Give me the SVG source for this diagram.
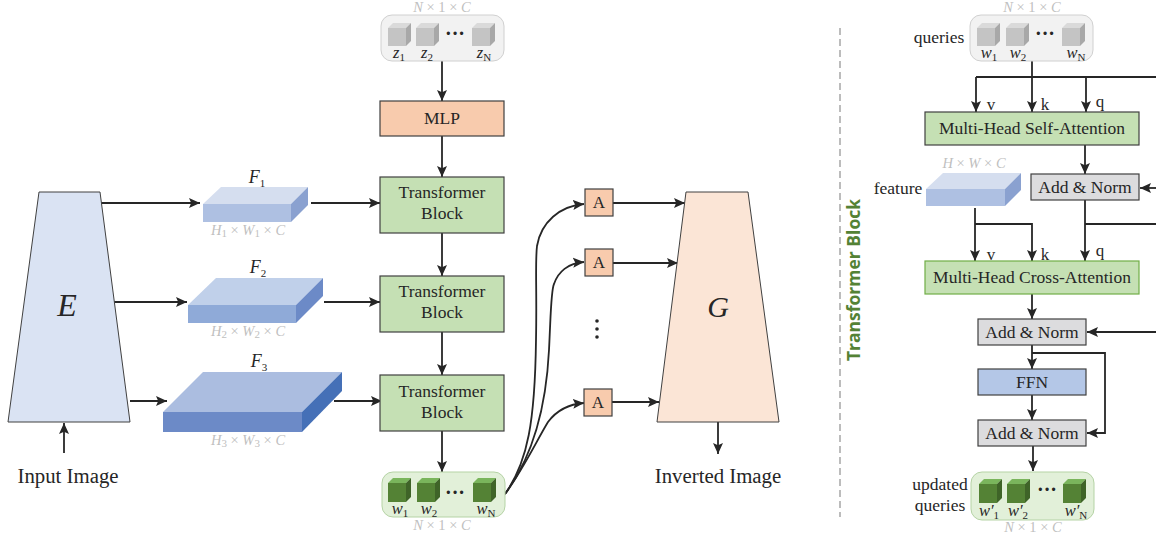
<svg xmlns="http://www.w3.org/2000/svg" xmlns:xlink="http://www.w3.org/1999/xlink" width="1156" height="535" viewBox="0 0 1156 535">
<style>
text{font-family:"Liberation Serif","Times New Roman",serif;fill:#262626}
.t{font-size:17.5px;text-anchor:middle}
.l{font-size:20.8px;text-anchor:middle}
.lb{font-size:17px;text-anchor:middle}
.n{font-size:17.5px;text-anchor:middle}
.m{font-style:italic;font-size:16.5px;text-anchor:middle}
.s{font-size:11px;font-style:normal}
.d{font-style:italic;font-size:14.5px;text-anchor:middle;fill:#bfbfbf}
.x{font-style:normal}
.dots{font-size:20px;font-weight:bold;text-anchor:middle}
.c{fill:none;stroke:#262626;stroke-width:1.8}
.a{marker-end:url(#ah)}
.box{stroke:#404040;stroke-width:1.2}
.gr{fill:#c5e0b4}.or{fill:#f8cbad}.gy{fill:#dcdcde}.bl{fill:#b4c7e7}
.pg{fill:#f2f2f2;stroke:#d0d0d0;stroke-width:1}
.pw{fill:#e2f0d9;stroke:#b5d3a5;stroke-width:1}
</style>
<defs>
<marker id="ah" markerUnits="userSpaceOnUse" markerWidth="12" markerHeight="11" refX="11" refY="5.5" orient="auto"><path d="M0,0.5 L11,5.5 L0,10.5 L2.2,5.5z" fill="#262626"/></marker>
<g id="gc"><rect x="0" y="5" width="18" height="18" fill="#c4c4c4"/><path d="M0,5 L5,0 H23 L18,5z" fill="#dadada"/><path d="M18,5 L23,0 V18 L18,23z" fill="#a8a8a8"/></g>
<g id="wc"><rect x="0" y="5" width="18" height="19" fill="#548235"/><path d="M0,5 L5,0 H23 L18,5z" fill="#7ab55c"/><path d="M18,5 L23,0 V19 L18,24z" fill="#3f6428"/></g>
</defs>

<g id="connectors">
<path class="c a" d="M442,61V101"/>
<path class="c a" d="M442,136V177"/>
<path class="c a" d="M442,233V276"/>
<path class="c a" d="M442,332V375"/>
<path class="c a" d="M442,431V472"/>
<path class="c a" d="M100,203H200"/>
<path class="c a" d="M311,203H380"/>
<path class="c a" d="M100,302H187"/>
<path class="c a" d="M324,302H380"/>
<path class="c a" d="M130,401H167"/>
<path class="c a" d="M334,401H382"/>
<path class="c a" d="M64,453V423"/>
<path class="c a" d="M718,422V454"/>
<path class="c a" d="M505,494C528,462 535,420 536,340C537,290 535,262 537,246C541,222 560,206 584,204"/>
<path class="c a" d="M505,494C532,458 546,410 549,350C551,310 551,290 554,284C558,272 568,263 584,262"/>
<path class="c a" d="M505,494C524,468 537,440 548,422C557,410 570,404 584,403"/>
<path class="c a" d="M613,203H685"/>
<path class="c a" d="M613,263H678"/>
<path class="c a" d="M612,402H659"/>
<path class="c a" d="M1032,61V112"/>
<path class="c" d="M976,77H1156"/>
<path class="c a" d="M976,77V112"/>
<path class="c a" d="M1086,77V112"/>
<path class="c a" d="M1085,145V174"/>
<path class="c a" d="M1156,188H1140"/>
<path class="c a" d="M1085,200V261"/>
<path class="c" d="M1085,224H1156"/>
<path class="c a" d="M975,208V261"/>
<path class="c a" d="M975,224H1032V261"/>
<path class="c a" d="M1032,294V319"/>
<path class="c a" d="M1156,332H1087"/>
<path class="c a" d="M1032,345V369"/>
<path class="c a" d="M1032,353H1105V433H1087"/>
<path class="c a" d="M1032,395V420"/>
<path class="c a" d="M1033,446V471"/>
<path d="M840,28V517" fill="none" stroke="#a6a6a6" stroke-width="1.5" stroke-dasharray="7 4"/>
</g>

<g id="encoder"><path d="M39,192H100L130,422H8z" fill="#dae3f3" stroke="#404040" stroke-width="1"/><text x="67" y="316" font-size="32" text-anchor="middle" font-style="italic">E</text></g>
<g id="input-label"><text class="l" x="68" y="483">Input Image</text></g>
<g id="generator"><path d="M686,192H748L779,422H657z" fill="#fbe5d6" stroke="#404040" stroke-width="1"/><text x="718" y="317" font-size="30" text-anchor="middle" font-style="italic">G</text></g>
<g id="output-label"><text class="l" x="718" y="483">Inverted Image</text></g>

<g id="z-panel">
<text class="d" x="442" y="12">N <tspan class="x">× 1 ×</tspan> C</text>
<rect class="pg" x="381" y="15" width="123" height="46" rx="11"/>
<use href="#gc" x="388" y="23"/><use href="#gc" x="416" y="23"/><use href="#gc" x="472" y="23"/>
<text class="dots" x="455" y="40">···</text>
<text class="m" x="399" y="58">z<tspan class="s" dy="3">1</tspan></text>
<text class="m" x="427" y="58">z<tspan class="s" dy="3">2</tspan></text>
<text class="m" x="484" y="58">z<tspan class="s" dy="3" font-style="italic">N</tspan></text>
</g>
<g id="mlp"><rect class="box or" x="380" y="101" width="124" height="35"/><text class="t" x="442" y="124">MLP</text></g>
<g id="tb1"><rect class="box gr" x="380" y="177" width="124" height="56"/><text class="t" x="442" y="198">Transformer</text><text class="t" x="442" y="219">Block</text></g>
<g id="tb2"><rect class="box gr" x="380" y="276" width="124" height="56"/><text class="t" x="442" y="297">Transformer</text><text class="t" x="442" y="318">Block</text></g>
<g id="tb3"><rect class="box gr" x="380" y="375" width="124" height="56"/><text class="t" x="442" y="397">Transformer</text><text class="t" x="442" y="418">Block</text></g>
<g id="w-panel">
<rect class="pw" x="382" y="472" width="123" height="45" rx="11"/>
<use href="#wc" x="388" y="478"/><use href="#wc" x="417" y="478"/><use href="#wc" x="473" y="478"/>
<text class="dots" x="455" y="499">···</text>
<text class="m" x="400" y="514">w<tspan class="s" dy="3">1</tspan></text>
<text class="m" x="429" y="514">w<tspan class="s" dy="3">2</tspan></text>
<text class="m" x="486" y="514">w<tspan class="s" dy="3" font-style="italic">N</tspan></text>
<text class="d" x="442" y="530">N <tspan class="x">× 1 ×</tspan> C</text>
</g>

<g id="f1">
<text x="257" y="183" font-size="18" text-anchor="middle" font-style="italic">F<tspan class="s" dy="4" font-size="12">1</tspan></text>
<path d="M203,204L221,187H308L291,204z" fill="#d5deef"/><rect x="203" y="204" width="88" height="18" fill="#aec0e2"/><path d="M291,204L308,187V205L291,222z" fill="#8aa1d0"/>
<text class="d" x="248" y="235">H<tspan class="s" dy="2">1</tspan><tspan class="x" dy="-2"> × </tspan>W<tspan class="s" dy="2">1</tspan><tspan class="x" dy="-2"> × </tspan>C</text>
</g>
<g id="f2">
<text x="258" y="273" font-size="18" text-anchor="middle" font-style="italic">F<tspan class="s" dy="4" font-size="12">2</tspan></text>
<path d="M188,305L216,278H323L296,305z" fill="#c0d0ea"/><rect x="188" y="305" width="108" height="18" fill="#8faad8"/><path d="M296,305L323,278V296L296,323z" fill="#6c8ac7"/>
<text class="d" x="248" y="336">H<tspan class="s" dy="2">2</tspan><tspan class="x" dy="-2"> × </tspan>W<tspan class="s" dy="2">2</tspan><tspan class="x" dy="-2"> × </tspan>C</text>
</g>
<g id="f3">
<text x="259" y="367" font-size="18" text-anchor="middle" font-style="italic">F<tspan class="s" dy="4" font-size="12">3</tspan></text>
<path d="M163,412L203,372H342L302,412z" fill="#abbde0"/><rect x="163" y="412" width="139" height="20" fill="#6c8ac7"/><path d="M302,412L342,372V391L302,432z" fill="#4570b7"/>
<text class="d" x="248" y="445">H<tspan class="s" dy="2">3</tspan><tspan class="x" dy="-2"> × </tspan>W<tspan class="s" dy="2">3</tspan><tspan class="x" dy="-2"> × </tspan>C</text>
</g>

<g id="a1"><rect class="box or" x="585" y="189" width="28" height="27"/><text class="lb" x="599" y="208">A</text></g>
<g id="a2"><rect class="box or" x="585" y="249" width="28" height="27"/><text class="lb" x="599" y="268">A</text></g>
<g id="a3"><rect class="box or" x="584" y="389" width="28" height="27"/><text class="lb" x="598" y="408">A</text></g>
<g id="a-dots"><circle cx="597" cy="321" r="1.8" fill="#262626"/><circle cx="597" cy="329" r="1.8" fill="#262626"/><circle cx="597" cy="337" r="1.8" fill="#262626"/></g>

<g id="transformer-title"><text transform="translate(860,280) rotate(-90)" text-anchor="middle" font-size="17.5" font-weight="bold" style="font-family:'Open Sans','Liberation Sans',sans-serif;fill:#548235">Transformer Block</text></g>

<g id="queries">
<text class="d" x="1032" y="12">N <tspan class="x">× 1 ×</tspan> C</text>
<text class="n" x="939" y="43">queries</text>
<rect class="pg" x="970" y="15" width="123" height="46" rx="11"/>
<use href="#gc" x="977" y="23"/><use href="#gc" x="1006" y="23"/><use href="#gc" x="1062" y="23"/>
<text class="dots" x="1045" y="40">···</text>
<text class="m" x="989" y="58">w<tspan class="s" dy="3">1</tspan></text>
<text class="m" x="1018" y="58">w<tspan class="s" dy="3">2</tspan></text>
<text class="m" x="1076" y="58">w<tspan class="s" dy="3" font-style="italic">N</tspan></text>
</g>
<g id="vkq1"><text class="lb" x="991" y="110">v</text><text class="lb" x="1045" y="110">k</text><text class="lb" x="1100" y="107">q</text></g>
<g id="self-attn"><rect class="box gr" x="925" y="112" width="214" height="33"/><text class="t" x="1032" y="134">Multi-Head Self-Attention</text></g>
<g id="addnorm1"><rect class="box gy" x="1031" y="174" width="108" height="26"/><text class="t" x="1085" y="193">Add &amp; Norm</text></g>
<g id="feature">
<text class="d" x="974" y="168">H <tspan class="x">×</tspan> W <tspan class="x">×</tspan> C</text>
<text class="n" x="898" y="194">feature</text>
<path d="M926,189L943,173H1021L1005,189z" fill="#d5deef"/><rect x="926" y="189" width="79" height="17" fill="#aec0e2"/><path d="M1005,189L1021,173V190L1005,206z" fill="#8aa1d0"/>
</g>
<g id="vkq2"><text class="lb" x="991" y="260">v</text><text class="lb" x="1045" y="260">k</text><text class="lb" x="1100" y="256">q</text></g>
<g id="cross-attn"><rect x="925" y="261" width="214" height="33" fill="#c5e0b4" stroke="#70ad47" stroke-width="1.2"/><text class="t" x="1032" y="283">Multi-Head Cross-Attention</text></g>
<g id="addnorm2"><rect class="box gy" x="978" y="319" width="108" height="26"/><text class="t" x="1032" y="338">Add &amp; Norm</text></g>
<g id="ffn"><rect class="box bl" x="978" y="369" width="108" height="26"/><text class="t" x="1032" y="388">FFN</text></g>
<g id="addnorm3"><rect class="box gy" x="978" y="420" width="108" height="26"/><text class="t" x="1032" y="439">Add &amp; Norm</text></g>
<g id="updated">
<text class="n" x="940" y="490">updated</text>
<text class="n" x="940" y="511">queries</text>
<rect class="pw" x="971" y="472" width="123" height="48" rx="11"/>
<use href="#wc" x="979" y="479"/><use href="#wc" x="1007" y="479"/><use href="#wc" x="1063" y="479"/>
<text class="dots" x="1047" y="496">···</text>
<text class="m" x="989" y="516">w′<tspan class="s" dy="3">1</tspan></text>
<text class="m" x="1018" y="516">w′<tspan class="s" dy="3">2</tspan></text>
<text class="m" x="1076" y="516">w′<tspan class="s" dy="3" font-style="italic">N</tspan></text>
<text class="d" x="1033" y="532">N <tspan class="x">× 1 ×</tspan> C</text>
</g>
</svg>
